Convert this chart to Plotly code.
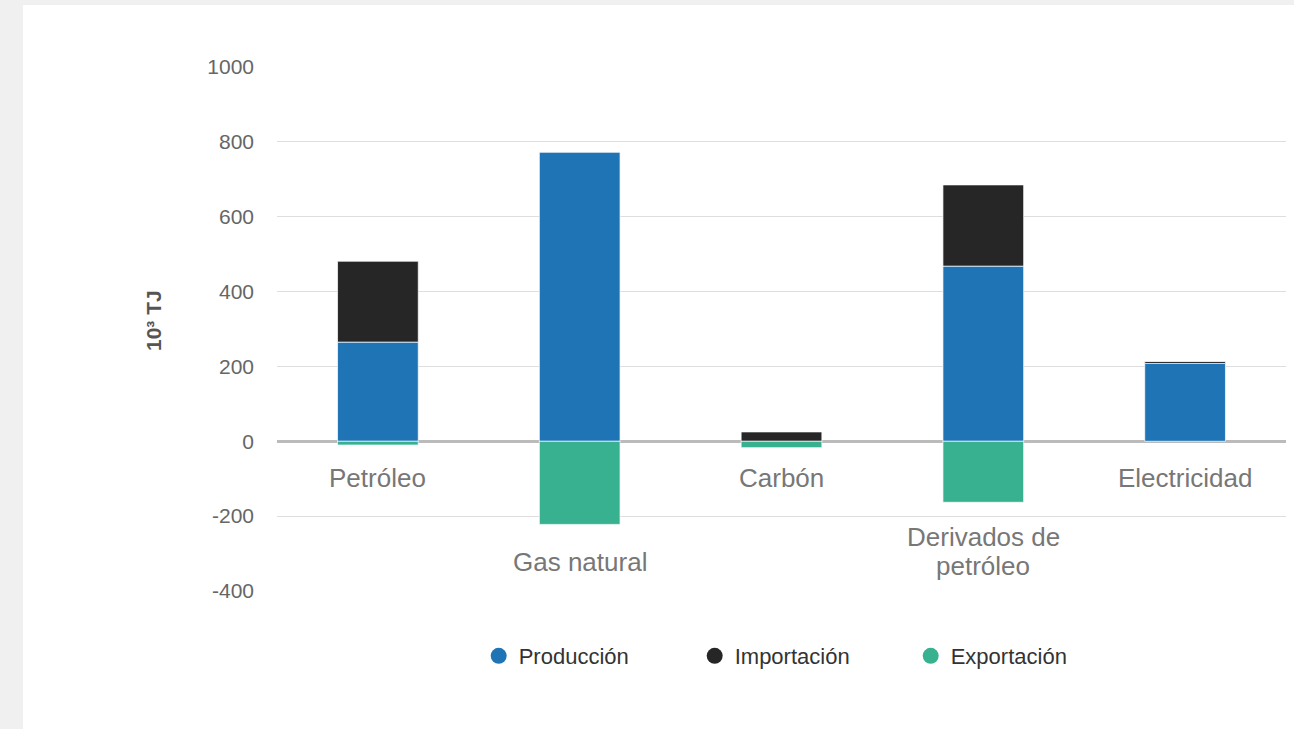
import plotly.graph_objects as go

# Energy balance by source (10^3 TJ)
categorias = ["Petróleo", "Gas natural", "Carbón", "Derivados de petróleo", "Electricidad"]
etiquetas = ["Petróleo", "Gas natural", "Carbón", "Derivados de<br>petróleo", "Electricidad"]
produccion = [265, 773, 0, 468, 208]
importacion = [216, 0, 25, 217, 6]
exportacion = [-10, -222, -17, -163, 0]

y_ticks = [-400, -200, 0, 200, 400, 600, 800, 1000]
y_tick_text = ["-400", "-200", "0", "200", "400", "600", "800", "1000"]

series = [
    ("Producción", produccion, "#1f74b6"),
    ("Importación", importacion, "#262626"),
    ("Exportación", exportacion, "#37b18f"),
]

# vertical offset (px) of each staggered category label below the zero line
desplazamiento = [-20, -104, -20, -79, -20]
INTERLINEA = 29

FONT = "Liberation Sans, Arial, sans-serif"

fig = go.Figure()
for nombre, valores, color in series:
    fig.add_trace(go.Bar(
        x=categorias, y=valores, name=nombre, showlegend=False,
        marker=dict(color=color, line=dict(color="rgba(255,255,255,0.7)", width=1)),
    ))
# circular legend markers
for nombre, valores, color in series:
    fig.add_trace(go.Scatter(
        x=[None], y=[None], mode="markers", name=nombre,
        marker=dict(symbol="circle", size=16, color=color),
    ))

for cat, txt, dy in zip(categorias, etiquetas, desplazamiento):
    for i, linea in enumerate(txt.split("<br>")):
        fig.add_annotation(
            x=cat, y=0, xref="x", yref="y", text=linea, showarrow=False,
            yanchor="top", yshift=dy - i * INTERLINEA,
            font=dict(family=FONT, size=26, color="#777777"),
        )

L, R, T, B = 277, 1294 - 1286, 67, 729 - 591
W, H = 1294 - L - R, 729 - T - B

# axis title
fig.add_annotation(
    x=(153 - L) / W, y=(591 - 321) / H, xref="paper", yref="paper",
    text="<b>10³ TJ</b>", textangle=-90, showarrow=False,
    xanchor="center", yanchor="middle",
    font=dict(family=FONT, size=21, color="#555555"),
)

# light grey page strips around the white card
fig.add_shape(type="rect", xref="paper", yref="paper", layer="below",
              x0=(0 - L) / W, x1=(23 - L) / W, y0=-2, y1=3,
              fillcolor="#f0f0f0", line_width=0)
fig.add_shape(type="rect", xref="paper", yref="paper", layer="below",
              x0=-2, x1=3, y0=1 + (T - 5) / H, y1=1 + T / H,
              fillcolor="#f0f0f0", line_width=0)

fig.update_layout(
    width=1294, height=729,
    margin=dict(l=L, r=R, t=T, b=B),
    barmode="relative", bargap=0.6,
    paper_bgcolor="white", plot_bgcolor="white",
    font=dict(family=FONT, color="#666666"),
    legend=dict(orientation="h", x=0.521, xanchor="center", y=(591 - 656) / H,
                yanchor="middle", font=dict(size=22, color="#333333"),
                entrywidth=171),
    xaxis=dict(showticklabels=False, showgrid=False, zeroline=False,
               range=[-0.5, 4.5]),
    yaxis=dict(range=[-400, 1000], tickvals=y_ticks, ticktext=y_tick_text,
               showgrid=True, gridcolor="#dedede",
               gridwidth=1, zeroline=True, zerolinecolor="#bbbbbb", zerolinewidth=3,
               tickfont=dict(size=21, color="#666666"), ticks="", ticklen=0,
               ticklabelstandoff=22),
)

fig.write_html("out.html")
